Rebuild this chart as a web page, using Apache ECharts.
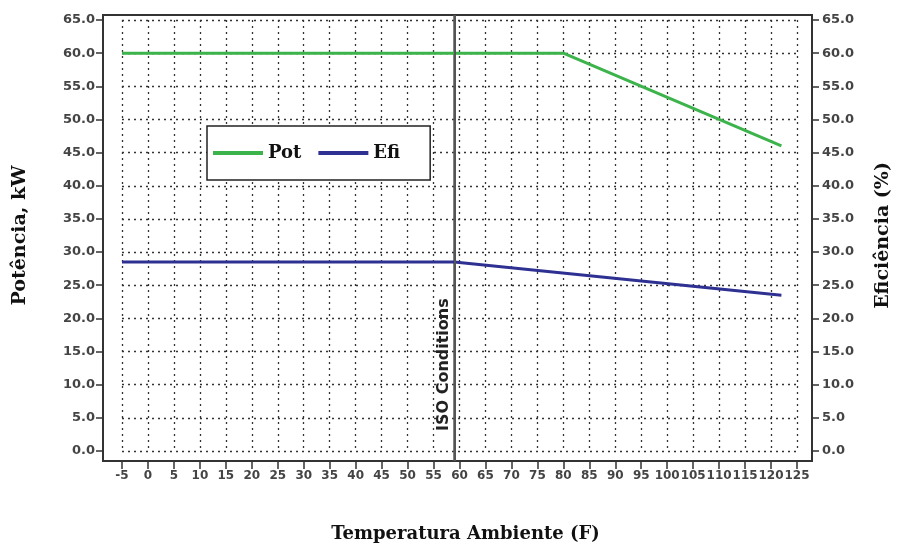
<!DOCTYPE html>
<html>
<head>
<meta charset="utf-8">
<script src="https://cdn.jsdelivr.net/npm/echarts@6/dist/echarts.min.js"></script>
<style>html,body{margin:0;padding:0;background:#fff}#c{width:901px;height:546px}</style>
</head>
<body>
<div id="c"></div>
<script>
// Data
const xTickLabels = [-5,0,5,10,15,20,25,30,35,40,45,50,55,60,65,70,75,80,85,90,95,100,105,110,115,120,125];
const yTickLabels = [0,5,10,15,20,25,30,35,40,45,50,55,60,65];
const potX = [-5, 80, 122];
const potY = [60, 60, 46];
const efiX = [-5, 59, 122];
const efiY = [28.5, 28.5, 23.5];
const isoX = 59;
const isoLabel = 'ISO Conditions';

const serif = '"DejaVu Serif", "Liberation Serif", serif';
const sans = '"DejaVu Sans", "Liberation Sans", sans-serif';

const chart = echarts.init(document.getElementById('c'), null, {renderer: 'canvas'});
const xMin = xTickLabels[0], xMax = xTickLabels[xTickLabels.length - 1];
const yMin = yTickLabels[0], yMax = yTickLabels[yTickLabels.length - 1];

const tickLabelStyle = {color: '#444', fontFamily: sans, fontWeight: 'bold', fontSize: 13};
const gridDots = {show: true, lineStyle: {type: [2, 4], color: '#333', width: 1.3}};

chart.setOption({
  animation: false,
  backgroundColor: '#fff',
  grid: [
    {left: 103, right: 89, top: 15, bottom: 85, show: true, borderColor: '#333', borderWidth: 2,
     backgroundColor: 'transparent', containLabel: false, outerBoundsMode: 'none'},
    {left: 122, right: 104, top: 20, bottom: 95, show: false, containLabel: false, outerBoundsMode: 'none'}
  ],
  legend: {
    data: ['Pot', 'Efi'],
    left: 207, top: 126,
    orient: 'horizontal',
    icon: 'rect',
    itemWidth: 50, itemHeight: 4, itemGap: 17,
    padding: [18, 30, 18, 6],
    backgroundColor: '#fff',
    borderColor: '#222', borderWidth: 1.5,
    textStyle: {fontFamily: serif, fontWeight: 'bold', fontSize: 18, color: '#111'}
  },
  xAxis: [
    {gridIndex: 0, type: 'value', show: false, min: -8.66, max: 127.9},
    {
      gridIndex: 1, type: 'value', position: 'bottom', min: xMin, max: xMax, interval: 5, offset: 10,
      name: 'Temperatura Ambiente (F)', nameLocation: 'middle', nameGap: 64,
      nameTextStyle: {fontFamily: serif, fontWeight: 'bold', fontSize: 18, color: '#111', padding: [0, 0, 0, 12]},
      axisLine: {show: false, onZero: false},
      axisTick: {show: true, length: 8, lineStyle: {color: '#333', width: 1.5}},
      axisLabel: Object.assign({margin: 9}, tickLabelStyle, {fontSize: 12, hideOverlap: false}),
      splitLine: gridDots
    }
  ],
  yAxis: [
    {gridIndex: 0, type: 'value', show: false, min: -1.51, max: 65.75},
    {
      gridIndex: 1, type: 'value', position: 'left', min: yMin, max: yMax, interval: 5, offset: 19,
      name: 'Potência, kW', nameLocation: 'middle', nameGap: 73,
      nameTextStyle: {fontFamily: serif, fontWeight: 'bold', fontSize: 19, color: '#111'},
      axisLine: {show: false, onZero: false},
      axisTick: {show: true, length: 7, lineStyle: {color: '#333', width: 1.5}},
      axisLabel: Object.assign({margin: 8, formatter: v => v.toFixed(1)}, tickLabelStyle),
      splitLine: gridDots
    },
    {
      gridIndex: 1, type: 'value', position: 'right', min: yMin, max: yMax, interval: 5, offset: 15,
      name: 'Eficiência (%)', nameLocation: 'middle', nameGap: 62,
      nameTextStyle: {fontFamily: serif, fontWeight: 'bold', fontSize: 19, color: '#111'},
      axisLine: {show: false, onZero: false},
      axisTick: {show: true, length: 7, lineStyle: {color: '#333', width: 1.5}},
      axisLabel: Object.assign({margin: 10, formatter: v => v.toFixed(1)}, tickLabelStyle),
      splitLine: {show: false}
    }
  ],
  series: [
    {
      name: 'ISO', type: 'line', xAxisIndex: 0, yAxisIndex: 0,
      data: [[isoX, -1.51], [isoX, 65.75]],
      symbol: 'none', silent: true,
      lineStyle: {color: '#555', width: 2},
      markLine: {
        silent: true, symbol: 'none',
        data: [{xAxis: isoX}],
        lineStyle: {color: '#555', width: 2, type: 'solid'},
        label: {
          show: true, formatter: isoLabel, position: 'insideStartTop',
          fontFamily: sans, fontWeight: 'bold', fontSize: 16, color: '#222', distance: [30, 2]
        }
      },
      z: 3
    },
    {
      name: 'Pot', type: 'line', xAxisIndex: 1, yAxisIndex: 1,
      data: potX.map((x, i) => [x, potY[i]]),
      symbol: 'none', color: '#3cb44b',
      lineStyle: {color: '#3cb44b', width: 3}, z: 4
    },
    {
      name: 'Efi', type: 'line', xAxisIndex: 1, yAxisIndex: 2,
      data: efiX.map((x, i) => [x, efiY[i]]),
      symbol: 'none', color: '#2e3192',
      lineStyle: {color: '#2e3192', width: 3}, z: 4
    }
  ]
});
</script>
</body>
</html>
